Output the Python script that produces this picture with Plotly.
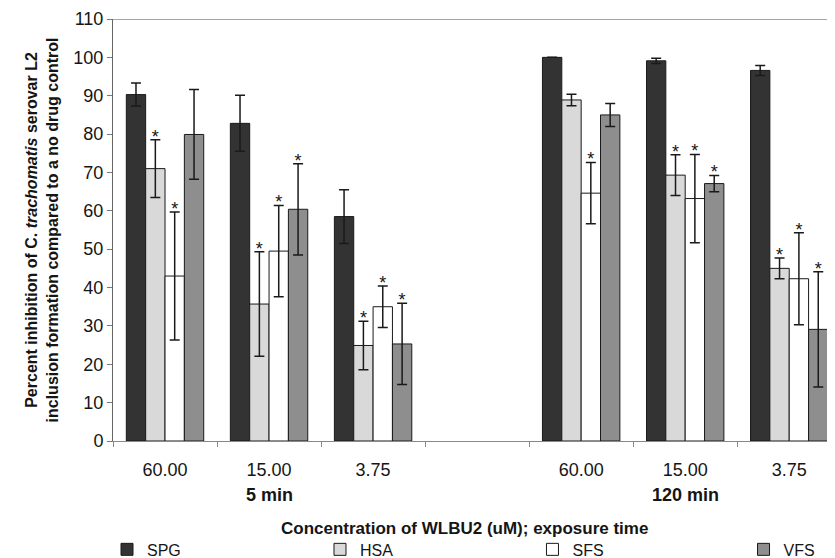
import plotly.graph_objects as go

# ---- data ----
cat_pos = [0, 1, 2, 4, 5, 6]
tick_labels = ["60.00", "15.00", "3.75", "60.00", "15.00", "3.75"]
group_labels = ["5 min", "120 min"]
group_centers = [1, 5]
series_names = ["SPG", "HSA", "SFS", "VFS"]

spg = [90.3, 82.8, 58.5, 100.0, 99.1, 96.6]
spg_err = [3.0, 7.3, 7.0, 0.0, 0.7, 1.3]
hsa = [71.0, 35.7, 24.9, 88.9, 69.3, 45.0]
hsa_err = [7.5, 13.6, 6.3, 1.5, 5.3, 2.7]
sfs = [43.0, 49.5, 35.0, 64.6, 63.2, 42.3]
sfs_err = [16.7, 11.9, 5.4, 8.0, 11.5, 12.0]
vfs = [79.9, 60.4, 25.3, 85.0, 67.1, 29.1]
vfs_err = [11.7, 11.9, 10.6, 3.0, 2.1, 15.0]

# significance flags (asterisks)
spg_sig = [0, 0, 0, 0, 0, 0]
hsa_sig = [1, 1, 1, 0, 1, 1]
sfs_sig = [1, 1, 1, 1, 1, 1]
vfs_sig = [0, 1, 1, 0, 1, 1]

values = [spg, hsa, sfs, vfs]
errors = [spg_err, hsa_err, sfs_err, vfs_err]
sigs = [spg_sig, hsa_sig, sfs_sig, vfs_sig]
colors = ["#333333", "#d9d9d9", "#ffffff", "#8e8e8e"]

FONT = "Arial, 'Liberation Sans', sans-serif"
TXT = "#151515"
BARGAP = 0.256
ASTER_PAD = 0.4
n_series = len(series_names)
bar_w = (1 - BARGAP) / n_series

legend_ids = ["legend", "legend2", "legend3", "legend4"]
legend_x = [-0.0083, 0.2867, 0.5810, 0.8733]

fig = go.Figure()
for k, name in enumerate(series_names):
    fig.add_trace(go.Bar(
        name=name, x=cat_pos, y=values[k], legend=legend_ids[k],
        marker=dict(color=colors[k], line=dict(color="#1a1a1a", width=1)),
        error_y=dict(type="data", array=errors[k], visible=True,
                     color="#1a1a1a", thickness=1.5, width=5),
    ))

# asterisks above the error bars
for k in range(n_series):
    xs, ys = [], []
    for i, c in enumerate(cat_pos):
        if sigs[k][i]:
            xs.append(c + (k - (n_series - 1) / 2) * bar_w)
            ys.append(values[k][i] + errors[k][i] + ASTER_PAD)
    if xs:
        fig.add_trace(go.Scatter(
            x=xs, y=ys, mode="text", text=["*"] * len(xs),
            textposition="middle center",
            textfont=dict(family=FONT, size=18, color=TXT),
            showlegend=False, hoverinfo="skip", cliponaxis=False,
        ))

legend_common = dict(orientation="h", xanchor="left", y=-0.257, yanchor="middle",
                     font=dict(family=FONT, size=16, color=TXT),
                     itemwidth=30, bgcolor="rgba(0,0,0,0)")

layout_legends = {lid: dict(x=lx, **legend_common) for lid, lx in zip(legend_ids, legend_x)}

fig.update_layout(
    width=827, height=550,
    margin=dict(l=105, r=0, t=11, b=117, autoexpand=False),
    paper_bgcolor="white", plot_bgcolor="white",
    barmode="group", bargap=BARGAP, bargroupgap=0,
    font=dict(family=FONT, color=TXT, size=17),
    xaxis=dict(
        range=[-0.5, 6.44], tickmode="array", tickvals=cat_pos, ticktext=tick_labels,
        ticks="", showline=True, linecolor="#888888", linewidth=1,
        showgrid=False, zeroline=False, ticklabelstandoff=12,
        tickfont=dict(family=FONT, size=18, color=TXT),
        minor=dict(tickmode="array", tickvals=[c + 0.5 for c in range(-1, 7)],
                   ticks="outside", ticklen=5, tickcolor="#888888", showgrid=False),
    ),
    yaxis=dict(
        range=[0, 110], dtick=10, tick0=0, ticks="outside", ticklen=5,
        tickcolor="#777777", showline=True, linecolor="#666666", linewidth=1,
        showgrid=False, zeroline=False,
        tickfont=dict(family=FONT, size=18, color=TXT),
        title=dict(text="<b>Percent inhibition of C. <i>trachomatis</i> serovar L2<br>"
                        "inclusion formation compared to a no drug control</b>",
                   font=dict(family=FONT, size=16, color=TXT), standoff=10),
        automargin=False,
    ),
    shapes=[dict(type="line", xref="paper", yref="y", x0=0, x1=1, y0=110, y1=110,
                 line=dict(color="#8a8a8a", width=1.5))],
    annotations=[
        dict(text="<b>" + g + "</b>", x=c, xref="x", y=-0.128, yref="paper",
             yanchor="middle", showarrow=False,
             font=dict(family=FONT, size=18, color=TXT))
        for g, c in zip(group_labels, group_centers)
    ] + [
        dict(text="<b>Concentration of WLBU2 (uM); exposure time</b>",
             x=0.4875, xref="paper", y=-0.2085, yref="paper", yanchor="middle",
             showarrow=False, font=dict(family=FONT, size=17, color=TXT)),
    ],
    **layout_legends,
)

fig.write_html("out.html")
